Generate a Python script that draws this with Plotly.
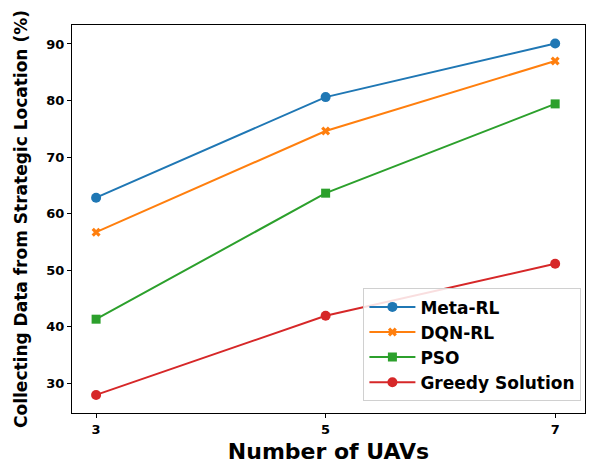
import plotly.graph_objects as go

uavs = [3, 5, 7]
tick_labels = ["3", "5", "7"]
meta_rl = [62.8, 80.6, 90.1]
dqn_rl = [56.7, 74.6, 87.0]
pso = [41.3, 63.6, 79.4]
greedy = [27.9, 41.9, 51.1]

series = [
    ("Meta-RL", meta_rl, "#1f77b4", "circle", 10),
    ("DQN-RL", dqn_rl, "#ff7f0e", "x", 8),
    ("PSO", pso, "#2ca02c", "square", 9),
    ("Greedy Solution", greedy, "#d62728", "circle", 10),
]

fig = go.Figure()
for name, vals, color, sym, msize in series:
    fig.add_trace(go.Scatter(
        x=uavs, y=vals, name=name, mode="lines+markers",
        line=dict(color=color, width=2),
        marker=dict(symbol=sym, size=msize, color=color),
    ))

font = "DejaVu Sans"
fig.update_layout(
    width=597, height=465,
    margin=dict(l=72, r=12, t=25, b=52, autoexpand=False),
    paper_bgcolor="white", plot_bgcolor="white",
    font=dict(family=font, color="black"),
    showlegend=True,
    legend=dict(
        x=0.993, y=0.03, xanchor="right", yanchor="bottom",
        bgcolor="rgba(255,255,255,0.85)", bordercolor="#d0d0d0", borderwidth=1,
        font=dict(family=font, size=17, color="black", weight="bold"),
        tracegroupgap=0, itemwidth=46,
    ),
    xaxis=dict(
        range=[2.79, 7.26], tickvals=uavs, ticktext=tick_labels,
        showgrid=False, zeroline=False, automargin=False,
        showline=True, linecolor="black", linewidth=1, mirror=True,
        ticks="outside", ticklen=4, tickcolor="black",
        tickfont=dict(family=font, size=13, color="black", weight="bold"),
        title=dict(text="Number of UAVs", standoff=8,
                   font=dict(family=font, size=22, color="black", weight="bold")),
    ),
    yaxis=dict(
        range=[24.7, 93.36], tickvals=[30, 40, 50, 60, 70, 80, 90],
        showgrid=False, zeroline=False, automargin=False,
        showline=True, linecolor="black", linewidth=1, mirror=True,
        ticks="outside", ticklen=4, tickcolor="black",
        tickfont=dict(family=font, size=13, color="black", weight="bold"),
        title=dict(text="Collecting Data from Strategic Location (%)", standoff=14,
                   font=dict(family=font, size=17, color="black", weight="bold")),
    ),
)

fig.write_html("out.html")
